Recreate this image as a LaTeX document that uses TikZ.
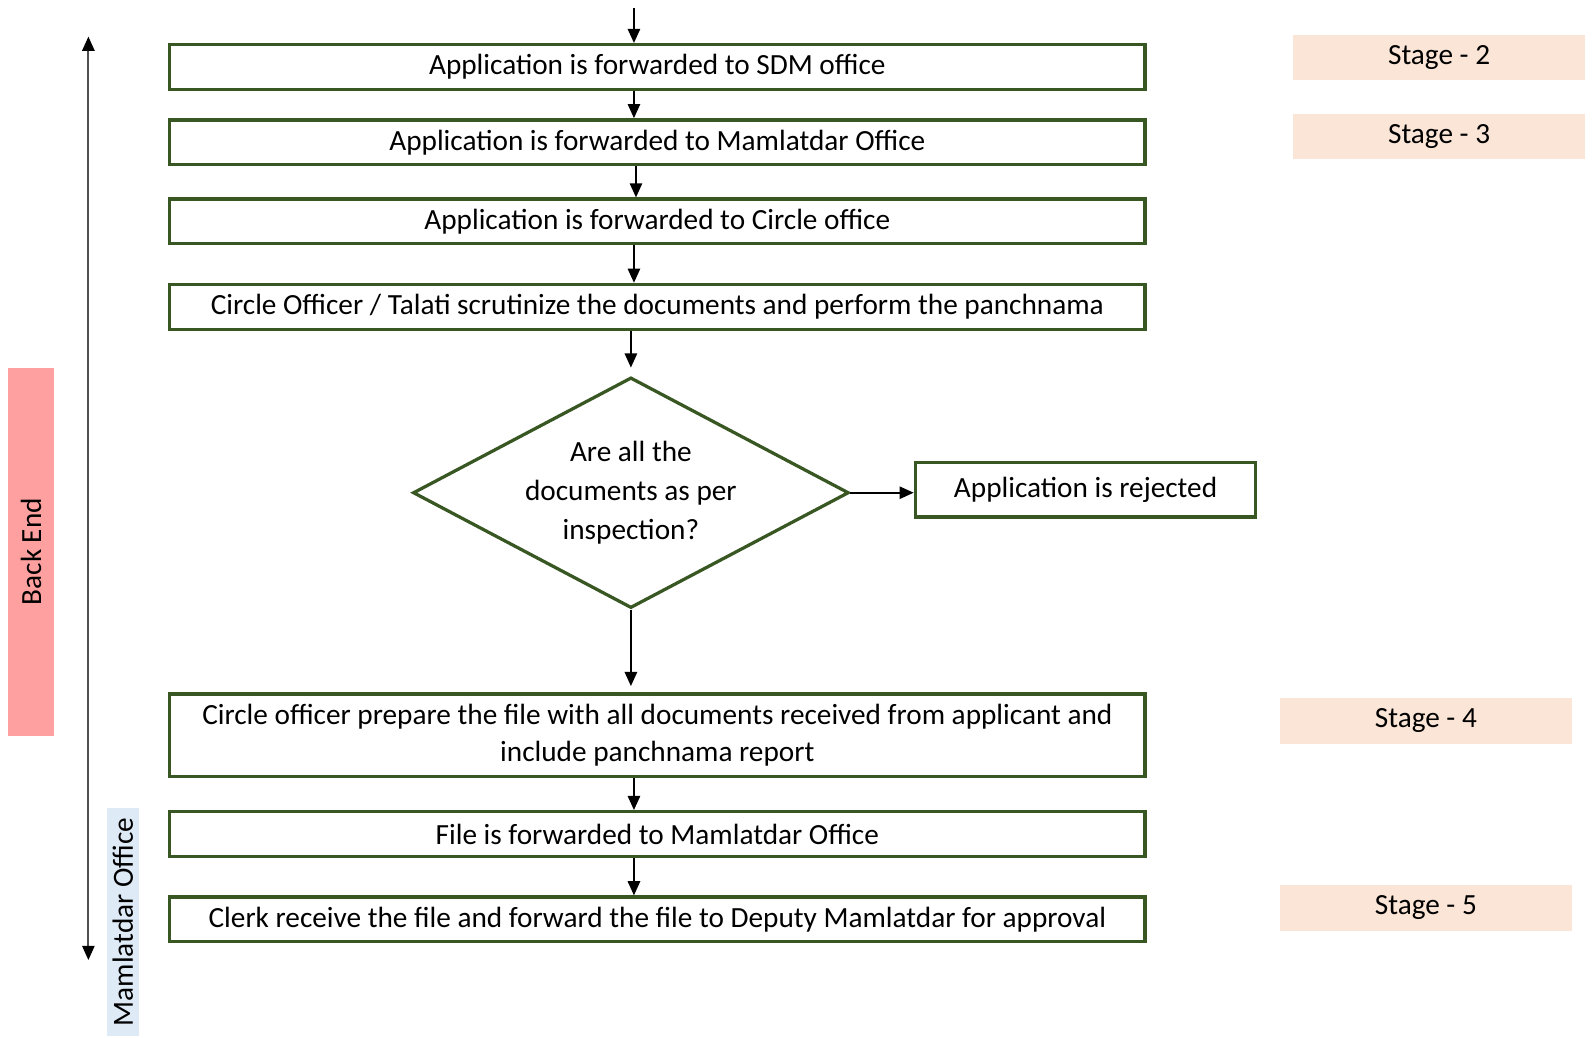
\documentclass[tikz,border=0pt]{standalone}
\usepackage{fontspec}
\setmainfont{Carlito}
\usetikzlibrary{shapes.geometric,arrows.meta}
\definecolor{boxgreen}{RGB}{56,87,35}
\definecolor{stagepeach}{RGB}{251,229,214}
\definecolor{backpink}{RGB}{255,160,160}
\definecolor{officeblue}{RGB}{222,235,247}
\definecolor{sidegray}{RGB}{80,80,80}

\begin{document}
\begin{tikzpicture}[x=0.5pt,y=-0.5pt,
    font=\fontsize{14.4}{19}\selectfont,
    flowbox/.style={draw=boxgreen, line width=1.6pt, fill=white, inner sep=0pt,
        minimum width=480pt, minimum height=22pt, align=center},
    decision/.style={diamond, draw=boxgreen, line width=1.6pt, inner sep=0pt,
        shape aspect=1.9, minimum width=214.5pt, minimum height=113.5pt, align=center},
    stagebox/.style={fill=stagepeach, inner sep=0pt, minimum width=143.5pt, minimum height=22.5pt},
    flowarrow/.style={black, line width=1.1pt, -{Triangle[length=7pt,width=6pt]}}]
    \useasboundingbox (0,0) rectangle (1568,1021);

    % Side bands
    \node[fill=backpink, rotate=90, inner sep=0pt, minimum width=181pt, minimum height=22.5pt]
        (backend) at (30.5,543) {Back End};
    \node[fill=officeblue, rotate=90, inner sep=0pt, minimum width=112.5pt, minimum height=16pt]
        (office) at (121,907.5) {Mamlatdar Office};

    % Vertical double arrow
    \coordinate (sidetop) at (87,36);
    \coordinate (sidebot) at (87,945);
    \draw[sidegray, line width=1pt,
        {Triangle[black,length=7pt,width=6pt]}-{Triangle[black,length=7pt,width=6pt]}]
        (sidetop) -- (sidebot);

    % Flow boxes
    \node[flowbox] (sdm) at (647,66) {Application is forwarded to SDM office};
    \node[flowbox] (mam) at (647,140) {Application is forwarded to Mamlatdar Office};
    \node[flowbox] (circle) at (647,218) {Application is forwarded to Circle office};
    \node[flowbox] (scrut) at (647,302) {Circle Officer / Talati scrutinize the documents and perform the panchnama};
    \node[decision] (check) at (621,485) {Are all the\\documents as per\\inspection?};
    \node[flowbox, minimum width=167.5pt, minimum height=27pt] (reject) at (1068.5,482) {Application is rejected};
    \node[flowbox, minimum height=40.5pt, font=\fontsize{14.4}{18.5}\selectfont] (prepare) at (647,723.5)
        {Circle officer prepare the file with all documents received from applicant and\\include panchnama report};
    \node[flowbox] (fwdfile) at (647,821) {File is forwarded to Mamlatdar Office};
    \node[flowbox] (clerk) at (647,905) {Clerk receive the file and forward the file to Deputy Mamlatdar for approval};

    % Stage labels
    \foreach \n/\x/\y in {2/1416.5/56.5, 3/1416.5/134.5, 4/1403.5/709.5, 5/1403.5/893.5} {
        \node[stagebox] (stage\n) at (\x,\y) {Stage - \n};
    }

    % Connectors
    \coordinate (start) at (624,8);
    \coordinate (line) at (624,0);
    \draw[flowarrow] (start) -- (sdm.north -| start);
    \draw[flowarrow] (sdm.south -| line) -- (mam.north -| line);
    \draw[flowarrow] ([xshift=1pt]mam.south -| line) -- ([xshift=1pt]circle.north -| line);
    \draw[flowarrow] (circle.south -| line) -- (scrut.north -| line);
    \draw[flowarrow, shorten >=4pt] (scrut.south -| check.north) -- (check.north);
    \draw[flowarrow] (check.east) -- (check.east -| reject.west);
    \draw[flowarrow, shorten >=3pt] (check.south) -- (prepare.north -| check.south);
    \draw[flowarrow] (prepare.south -| line) -- (fwdfile.north -| line);
    \draw[flowarrow] (fwdfile.south -| line) -- (clerk.north -| line);
\end{tikzpicture}
\end{document}
